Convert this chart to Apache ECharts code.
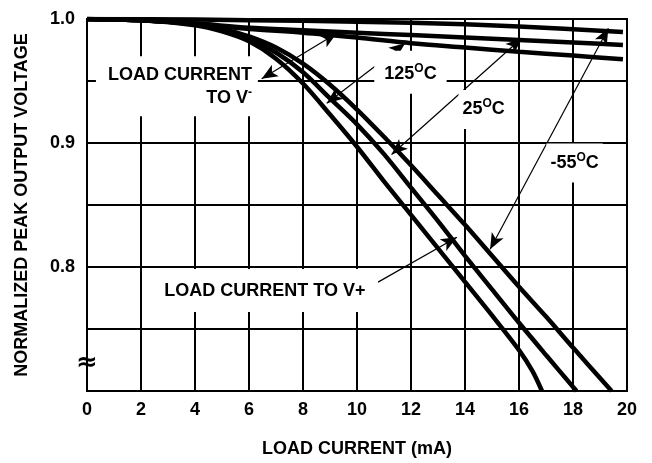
<!DOCTYPE html>
<html>
<head>
<meta charset="utf-8">
<script src="https://cdn.jsdelivr.net/npm/echarts@6.0.0/dist/echarts.min.js"></script>
<style>
html, body { margin: 0; padding: 0; background: #fff; }
#main { width: 652px; height: 463px; }
</style>
</head>
<body>
<div id="main"></div>
<script>
var FONT = 'Liberation Sans, Arial, Helvetica, sans-serif';

// load current to V+ (steep curves)
var xPlus125 = [0, 2, 4, 5, 6, 7, 8, 9, 10, 11, 12, 13, 14, 15, 16, 16.5, 16.85];
var yPlus125 = [1.0, 0.999, 0.995, 0.99, 0.982, 0.968, 0.948, 0.923, 0.897, 0.869, 0.842, 0.815, 0.788, 0.761, 0.733, 0.716, 0.7];
var xPlus25 = [0, 2, 4, 5, 6, 7, 8, 9, 10, 11, 12, 13, 14, 15, 16, 17, 18.13];
var yPlus25 = [1.0, 0.999, 0.996, 0.991, 0.984, 0.973, 0.957, 0.936, 0.915, 0.891, 0.864, 0.837, 0.809, 0.782, 0.755, 0.729, 0.7];
var xPlus55 = [0, 2, 4, 5, 6, 7, 8, 9, 10, 11, 12, 13, 14, 15, 16, 17, 18, 19.43];
var yPlus55 = [1.0, 0.999, 0.996, 0.992, 0.986, 0.977, 0.964, 0.947, 0.927, 0.905, 0.882, 0.858, 0.834, 0.809, 0.784, 0.76, 0.735, 0.7];

// load current to V- (flat curves)
var xMinus55 = [0, 4, 8, 12, 16, 19.85];
var yMinus55 = [1.0, 0.9995, 0.9985, 0.997, 0.994, 0.9895];
var xMinus = [0, 2, 4, 6, 8, 10, 12, 14, 16, 18, 19.85];
var yMinus25 = [1.0, 0.999, 0.9965, 0.993, 0.991, 0.989, 0.987, 0.985, 0.983, 0.981, 0.979];
var yMinus125 = [1.0, 0.999, 0.996, 0.992, 0.989, 0.985, 0.9805, 0.977, 0.9735, 0.9705, 0.9675];

var yTickLabels = ['0.8', '0.9', '1.0'];

// annotation arrows [x1, y1, x2, y2, head at start?]
var arrows = [
    [6.47, 0.9518, 9.25, 0.9885, true],
    [8.88, 0.932, 11.78, 0.9805, true],
    [11.28, 0.8907, 16.1, 0.9845, true],
    [14.93, 0.8143, 19.31, 0.9925, true],
    [10.78, 0.7878, 13.7, 0.824, false]
];

// annotation texts: [x, y, text, align, padding]
var notes = [
    [6.33, 0.9457, '{t|LOAD CURRENT}\n{t|TO V}{sup|-}', 'right', [7, 6, 7, 12]],
    [11.98, 0.957, '{t|125}{sup|O}{t|C}', 'center', [12, 10, 8, 10]],
    [14.69, 0.927, '{t|25}{sup|O}{t|C}', 'center', [8, 4, 8, 4]],
    [18.06, 0.8838, '{t|-55}{sup|O}{t|C}', 'center', [8, 4, 8, 4]],
    [6.59, 0.781, '{t|LOAD CURRENT TO V+}', 'center', [10, 8, 10, 8]]
];

var breakMark = [0, 0.722];

function pairs(xs, ys) {
    return xs.map(function (x, i) { return [x, ys[i]]; });
}

var myChart = echarts.init(document.getElementById('main'));

function curve(name, xs, ys) {
    return {
        name: name,
        type: 'line',
        data: pairs(xs, ys),
        symbol: 'none',
        smooth: 0.3,
        lineStyle: { color: '#000', width: 4.5 },
        z: 3
    };
}

var arrowLines = arrows.map(function (a) {
    return [
        { coord: [a[0], a[1]], symbol: a[4] ? 'arrow' : 'none' },
        { coord: [a[2], a[3]], symbol: 'arrow' }
    ];
});

var series = [
    curve('V+ 125', xPlus125, yPlus125),
    curve('V+ 25', xPlus25, yPlus25),
    curve('V+ -55', xPlus55, yPlus55),
    curve('V- -55', xMinus55, yMinus55),
    curve('V- 25', xMinus, yMinus25),
    curve('V- 125', xMinus, yMinus125)
];
series[0].markLine = {
    silent: true,
    symbolSize: [10, 16],
    lineStyle: { color: '#000', width: 1.2, type: 'solid' },
    label: { show: false },
    emphasis: { disabled: true },
    data: arrowLines,
    z: 6
};

var option = {
    animation: false,
    grid: { left: 87, right: 25, top: 19, bottom: 71, show: true, borderColor: '#000', borderWidth: 2 },
    xAxis: {
        type: 'value', min: 0, max: 20, interval: 2,
        name: 'LOAD CURRENT (mA)', nameLocation: 'middle', nameGap: 49,
        nameTextStyle: { color: '#000', fontFamily: FONT, fontWeight: 'bold', fontSize: 18 },
        axisLine: { lineStyle: { color: '#000', width: 2 } },
        axisTick: { show: false },
        axisLabel: { color: '#000', fontFamily: FONT, fontWeight: 'bold', fontSize: 18, margin: 10 },
        splitLine: { lineStyle: { color: '#000', width: 2 } }
    },
    yAxis: {
        type: 'value', min: 0.7, max: 1.0, interval: 0.05,
        name: 'NORMALIZED PEAK OUTPUT VOLTAGE', nameLocation: 'middle', nameGap: 56, nameRotate: 90,
        nameTextStyle: { color: '#000', fontFamily: FONT, fontWeight: 'bold', fontSize: 18 },
        axisLine: { lineStyle: { color: '#000', width: 2 } },
        axisTick: { show: false },
        axisLabel: {
            color: '#000', fontFamily: FONT, fontWeight: 'bold', fontSize: 18, margin: 12,
            formatter: function (v) {
                var s = v.toFixed(1);
                return (Math.abs(v * 10 - Math.round(v * 10)) < 1e-6 && yTickLabels.indexOf(s) >= 0) ? s : '';
            }
        },
        splitLine: { lineStyle: { color: '#000', width: 2 } }
    },
    series: series
};
myChart.setOption(option);

// 文字标注
var rich = {
    t: { fontFamily: FONT, fontWeight: 'bold', fontSize: 18, color: '#000', lineHeight: 23 },
    sup: { fontFamily: FONT, fontWeight: 'bold', fontSize: 12, color: '#000', verticalAlign: 'top', lineHeight: 23, padding: [0, 0, 8, 0] }
};
var graphics = notes.map(function (n) {
    var p = myChart.convertToPixel('grid', [n[0], n[1]]);
    return {
        type: 'text', x: p[0], y: p[1], z: 10,
        style: {
            text: n[2], rich: rich, align: n[3], verticalAlign: 'middle',
            backgroundColor: '#fff', padding: n[4]
        }
    };
});
var bp = myChart.convertToPixel('grid', breakMark);
graphics.push({
    type: 'text', x: bp[0], y: bp[1], z: 10,
    style: { text: '≈', fontFamily: 'DejaVu Sans', fontWeight: 'bold', fontSize: 26, fill: '#000', align: 'center', verticalAlign: 'middle' }
});
myChart.setOption({ graphic: graphics });
</script>
</body>
</html>
